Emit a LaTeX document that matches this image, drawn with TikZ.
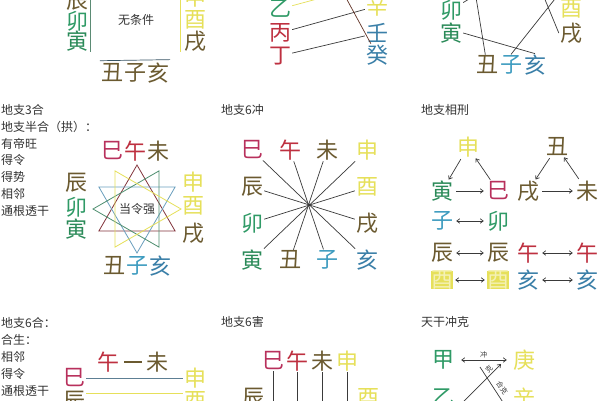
\documentclass[tikz,border=0pt]{standalone}
\usepackage{fontspec}
\setmainfont{Noto Sans CJK SC}
\usetikzlibrary{arrows.meta}
\definecolor{txt}{HTML}{333333}
\definecolor{lin}{HTML}{3A3A3A}
\definecolor{brn}{HTML}{6B5A30}
\definecolor{grn}{HTML}{2F9A66}
\definecolor{dgrn}{HTML}{2A8A58}
\definecolor{rd}{HTML}{BE3040}
\definecolor{pnk}{HTML}{B8305C}
\definecolor{yel}{HTML}{E6E05A}
\definecolor{blu}{HTML}{3A7FA8}
\definecolor{tea}{HTML}{3E9CC0}

\begin{document}
\begin{tikzpicture}[x=1pt,y=-1pt,
  big/.style={font=\fontsize{22}{22}\selectfont,inner sep=1pt},
  note/.style={font=\fontsize{12}{14}\selectfont,text=txt,anchor=west,inner sep=0pt},
  tiny/.style={font=\fontsize{7}{7}\selectfont,text=txt,inner sep=0pt},
  ln/.style={draw=lin,line width=0.7pt},
  arr/.style={ln,-{Straight Barb[length=3pt,width=4.5pt]}},
  darr/.style={ln,{Straight Barb[length=3pt,width=4.5pt]}-{Straight Barb[length=3pt,width=4.5pt]}},
  hilite/.style={fill=yel,text=yel!45!white,inner sep=0pt}]
\useasboundingbox (0,0) rectangle (600,400);
\fill[white] (0,0) rectangle (600,400);
\clip (0,0) rectangle (600,400);

% top left
  \node[big,text=brn] (p1chen) at (77,1) {辰};
  \node[big,text=grn] (p1mao) at (77,21) {卯};
  \node[big,text=dgrn] (p1yin) at (77,41) {寅};
  \node[big,text=yel] (p1shen) at (195,-3) {申};
  \node[big,text=yel] (p1you) at (195,20) {酉};
  \node[big,text=brn] (p1xu) at (195,41) {戌};
  \node[big,text=brn] (p1chou) at (112,73) {丑};
  \node[big,text=brn] (p1zi) at (135,73) {子};
  \node[big,text=brn] (p1hai) at (158,73) {亥};
  \node[note,anchor=center] (p1none) at (136,20) {无条件};
  \draw[draw=grn!45!gray,line width=0.7pt] ([xshift=1pt]p1chen.north east) -- ([xshift=1pt]p1yin.south east);
  \draw[draw=yel,line width=0.7pt] ([xshift=-2pt]p1shen.north west) -- ([xshift=-2pt]p1xu.south west);
  \draw[draw=blu!40!lin,line width=0.7pt] ([yshift=2pt]p1chou.north west) -- ([yshift=2pt]p1hai.north east);

% top middle
  \node[big,text=grn] (p2yi) at (280,9) {乙};
  \node[big,text=rd] (p2bing) at (280,33) {丙};
  \node[big,text=rd] (p2ding) at (280,56) {丁};
  \node[big,text=yel] (p2xin) at (377,6) {辛};
  \node[big,text=blu] (p2ren) at (377,33) {壬};
  \node[big,text=blu] (p2gui) at (377,55) {癸};
  \coordinate (p2geng) at (380,-18);
  \coordinate (p2wu) at (332,-28);
  \draw[draw=yel,line width=0.7pt] (p2yi) -- (p2geng);
  \draw[ln] (p2bing) -- (p2xin);
  \draw[ln] (p2ding) -- (p2ren);
  \draw[draw=brn!60!rd!70!black,line width=0.7pt] (p2wu) -- (p2gui);

% top right
  \node[big,text=grn] (p3mao) at (451,10) {卯};
  \node[big,text=dgrn] (p3yin) at (451,33) {寅};
  \node[big,text=yel] (p3you) at (571,9) {酉};
  \node[big,text=brn] (p3xu) at (571,33) {戌};
  \node[big,text=brn] (p3chou) at (487,65) {丑};
  \node[big,text=tea] (p3zi) at (511,65) {子};
  \node[big,text=blu] (p3hai) at (535,65) {亥};
  \coordinate (p3a) at (492,-15);
  \coordinate (p3b) at (474,-15);
  \coordinate (p3c) at (566,-15);
  \coordinate (p3d) at (539,-15);
  \draw[ln] (p3mao) -- (p3a);
  \draw[ln] (p3b) -- (p3chou);
  \draw[ln] (p3yin.east) -- (p3hai.north);
  \draw[ln] (p3zi.north) -- (p3c);
  \draw[ln] (p3d) -- (p3xu.west);

% middle left
  \foreach \t [count=\i from 0] in {地支3合,地支半合（拱）：,有帝旺,得令,得势,相邻,通根透干}
    \node[note] (p4t\i) at (1,{110+16.8*\i}) {\t};
  \coordinate (p4o) at (137,209);
  \foreach \r/\col in {270/rd!55!lin, 90/blu!75!white, 180/grn!60!gray, 0/yel}
    \draw[draw=\col,line width=0.8pt,shift={(p4o)}] (\r:44) -- (\r+120:44) -- (\r+240:44) -- cycle;
  \node[note,anchor=center] (p4strong) at (p4o) {当令强};
  \node[big,text=pnk] (p4si) at (112,151) {巳};
  \node[big,text=rd] (p4wu) at (135,151) {午};
  \node[big,text=brn] (p4wei) at (158,151) {未};
  \node[big,text=brn] (p4chen) at (76,183) {辰};
  \node[big,text=grn] (p4mao) at (76,207) {卯};
  \node[big,text=dgrn] (p4yin) at (76,229) {寅};
  \node[big,text=yel] (p4shen) at (193,182) {申};
  \node[big,text=yel] (p4you) at (193,206) {酉};
  \node[big,text=brn] (p4xu) at (193,233) {戌};
  \node[big,text=brn] (p4chou) at (114,266) {丑};
  \node[big,text=tea] (p4zi) at (137,266) {子};
  \node[big,text=blu] (p4hai) at (160,266) {亥};

% middle centre
  \node[note] (p5title) at (221,110) {地支6冲};
  \foreach \n/\c/\x/\y/\col in {si/巳/252/150/pnk, wu/午/290/150/rd, wei/未/327/150/brn, shen/申/367/150/yel,
      chen/辰/252/187/brn, you/酉/367/187/yel, mao/卯/252/223/grn, xu/戌/367/223/brn,
      yin/寅/252/260/dgrn, chou/丑/290/260/brn, zi/子/327/260/tea, hai/亥/367/260/blu}
    \node[big,text=\col] (p5\n) at (\x,\y) {\c};
  \foreach \a/\b in {wu/zi, wei/chou, si/hai, shen/yin, chen/xu, you/mao}
    \draw[ln] (p5\a) -- (p5\b);
  \fill[lin] (309.5,205) circle (1.3);

% middle right
  \node[note] (p6title) at (421,110) {地支相刑};
  \node[big,text=yel] (p6shen) at (468,147) {申};
  \node[big,text=brn] (p6chou) at (557,147) {丑};
  \node[big,text=dgrn] (p6yin) at (442,191) {寅};
  \node[big,text=pnk] (p6si) at (498,191) {巳};
  \node[big,text=brn] (p6xu) at (528,191) {戌};
  \node[big,text=brn] (p6wei) at (587,191) {未};
  \node[big,text=tea] (p6zi) at (442,221) {子};
  \node[big,text=grn] (p6mao) at (498,221) {卯};
  \node[big,text=brn] (p6chenl) at (442,253) {辰};
  \node[big,text=brn] (p6chenr) at (498,253) {辰};
  \node[big,text=rd] (p6wul) at (528,253) {午};
  \node[big,text=rd] (p6wur) at (587,253) {午};
  \node[big,hilite] (p6youl) at (442,280) {酉};
  \node[big,hilite] (p6your) at (498,280) {酉};
  \node[big,text=blu] (p6hail) at (528,280) {亥};
  \node[big,text=blu] (p6hair) at (587,280) {亥};
  \draw[arr,shorten <=1pt] (p6shen) -- (p6yin);
  \draw[arr,shorten <=1pt] (p6si) -- (p6shen);
  \draw[arr,shorten <=2pt,shorten >=2pt] (p6yin) -- (p6si);
  \draw[arr,shorten <=1pt] (p6chou) -- (p6xu);
  \draw[arr,shorten <=1pt] (p6wei) -- (p6chou);
  \draw[arr,shorten <=2pt,shorten >=2pt] (p6xu) -- (p6wei);
  \foreach \a/\b in {zi/mao, chenl/chenr, wul/wur, youl/your, hail/hair}
    \draw[darr,shorten <=2pt,shorten >=2pt] (p6\a) -- (p6\b);

% bottom left
  \foreach \t [count=\i from 0] in {地支6合：,合生：,相邻,得令,通根透干}
    \node[note] (p7t\i) at (1,{323+17*\i}) {\t};
  \node[big,text=rd] (p7wu) at (108,362) {午};
  \node[big,text=brn] (p7wei) at (157,362) {未};
  \node[big,text=pnk] (p7si) at (74,378) {巳};
  \node[big,text=yel] (p7shen) at (195,378) {申};
  \node[big,text=brn] (p7chen) at (74,401) {辰};
  \node[big,text=yel] (p7you) at (195,401) {酉};
  \draw[draw=brn,line width=1.6pt,shorten <=4pt,shorten >=3pt] (p7wu) -- (p7wei);
  \draw[draw=blu!50!gray,line width=0.8pt] (p7si) -- (p7shen);
  \draw[draw=yel,line width=0.8pt] ([yshift=8pt]p7chen.east) -- ([yshift=8pt]p7you.west);

% bottom middle
  \node[note] (p8title) at (221,322) {地支6害};
  \foreach \n/\c/\x/\col/\m in {si/巳/273/pnk/yin, wu/午/297/rd/chou, wei/未/322/brn/zi, shen/申/347/yel/hai} {
    \node[big,text=\col] (p8\n) at (\x,361) {\c};
    \coordinate (p8\m) at (\x,440);
    \draw[ln] (p8\n) -- (p8\m);
  }
  \node[big,text=brn] (p8chen) at (253,398) {辰};
  \node[big,text=yel] (p8you) at (368,398) {酉};

% bottom right
  \node[note] (p9title) at (421,322) {天干冲克};
  \node[big,text=grn] (p9jia) at (443,360) {甲};
  \node[big,text=yel] (p9geng) at (524,360) {庚};
  \node[big,text=grn] (p9yi) at (443,398) {乙};
  \node[big,text=yel] (p9xin) at (524,398) {辛};
  \draw[darr,shorten <=6pt,shorten >=5pt] (p9jia) -- node[tiny,above=1.5pt] (p9chong) {冲} (p9geng);
  \coordinate (p9a) at (480,367);
  \coordinate (p9b) at (508,410);
  \coordinate (p9c) at (460,405);
  \coordinate (p9d) at (501,364);
  \draw[ln] (p9a) -- (p9b);
  \draw[arr] (p9c) -- (p9d);
  \node[tiny,rotate=45] (p9ke) at (489,369) {克};
  \node[tiny,rotate=-56] (p9heke) at (502,388) {合克};
\end{tikzpicture}
\end{document}
